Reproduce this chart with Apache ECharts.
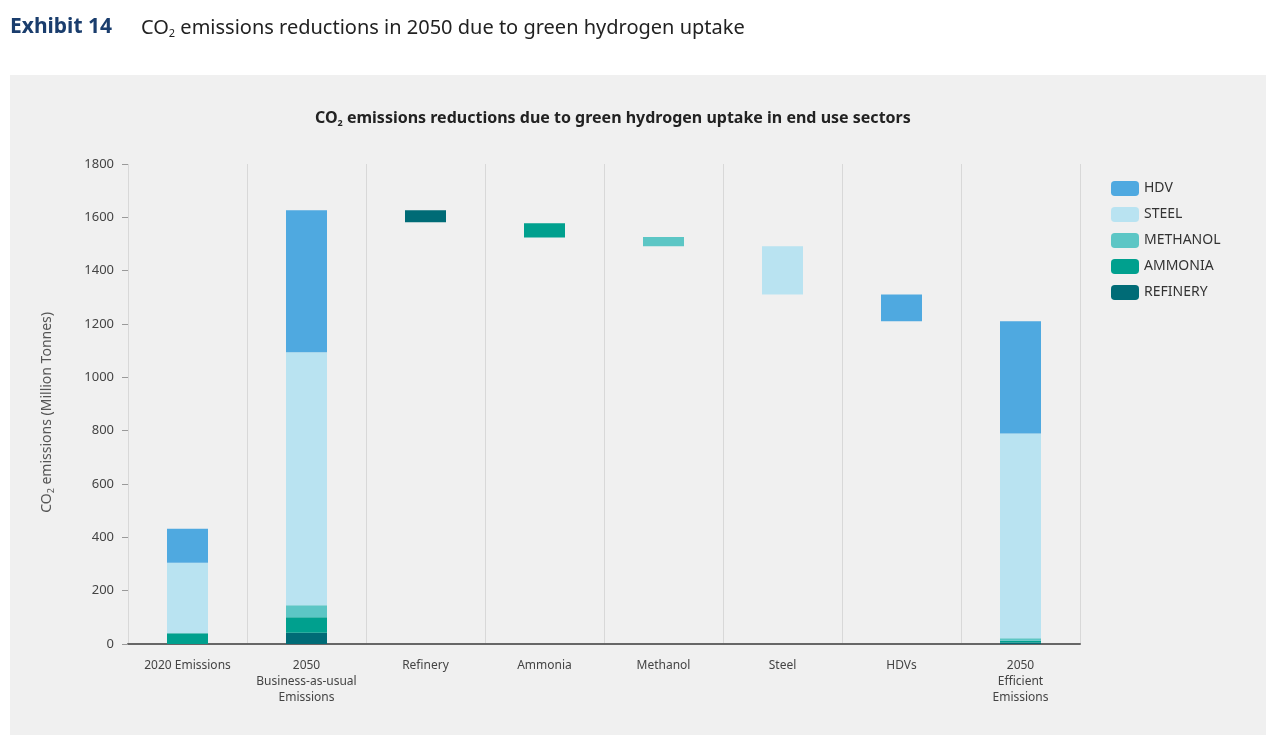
<!DOCTYPE html>
<html><head><meta charset="utf-8">
<script src="https://cdn.jsdelivr.net/npm/echarts@6/dist/echarts.min.js"></script>
<style>html,body{margin:0;padding:0;background:#fff}#c{width:1280px;height:747px}</style>
</head><body><div id="c"></div>
<script>
const categories = ['2020 Emissions','2050\nBusiness-as-usual\nEmissions','Refinery','Ammonia','Methanol','Steel','HDVs','2050\nEfficient\nEmissions'];
const base     = [0, 0, 1582, 1524, 1492, 1311, 1210, 0];
const refinery = [0, 42, 45, 0, 0, 0, 0, 6];
const ammonia  = [40, 58, 0, 54, 0, 0, 0, 6];
const methanol = [0, 45, 0, 0, 34, 0, 0, 10];
const steel    = [265, 949, 0, 0, 0, 181, 0, 767];
const hdv      = [127, 533, 0, 0, 0, 0, 101, 421];
const yTicks = [0,200,400,600,800,1000,1200,1400,1600,1800];

const colors = {HDV:'#4fa9e0', STEEL:'#b9e3f1', METHANOL:'#5cc6c5', AMMONIA:'#00a08e', REFINERY:'#006b76'};
const font = 'Noto Sans';
function s(name, data){ return {name, type:'bar', stack:'t', data:data.map(v=>v||'-'), barWidth:41, itemStyle:{color:colors[name]}, emphasis:{disabled:true}}; }
const chart = echarts.init(document.getElementById('c'));
chart.setOption({
  animation:false,
  textStyle:{fontFamily:font},
  graphic:[
    {type:'rect', shape:{x:10,y:75,width:1256,height:660}, style:{fill:'#f0f0f0'}, z:-10},
    {type:'text', left:10, top:17, style:{text:'Exhibit 14', font:'bold 21px "Noto Sans"', fill:'#1a3d6d'}},
    {type:'text', left:141, top:18, style:{rich:{a:{fontSize:20,fontFamily:font,fill:'#222'},s:{fontSize:11,fontFamily:font,fill:'#222',padding:[12,0,0,0]}}, text:'{a|CO}{s|2}{a| emissions reductions in 2050 due to green hydrogen uptake}'}},
    {type:'text', left:315, top:110, style:{rich:{a:{fontSize:16,fontWeight:'bold',fontFamily:font,fill:'#222'},s:{fontSize:9,fontWeight:'bold',fontFamily:font,fill:'#222',padding:[10,0,0,0]}}, text:'{a|CO}{s|2}{a| emissions reductions due to green hydrogen uptake in end use sectors}'}},
    {type:'text', rotation:Math.PI/2, left:40, top:312, style:{rich:{a:{fontSize:14,fontFamily:font,fill:'#555'},s:{fontSize:9,fontFamily:font,fill:'#555',padding:[8,0,0,0]}}, text:'{a|CO}{s|2}{a| emissions (Million Tonnes)}'}}
  ],
  legend:{orient:'vertical', left:1106, top:176, itemWidth:28, itemHeight:15, itemGap:11,
    data:['HDV','STEEL','METHANOL','AMMONIA','REFINERY'], textStyle:{fontSize:14,color:'#333',fontFamily:font}},
  grid:{left:128, right:200, top:164, bottom:103},
  xAxis:{type:'category', data:categories, axisLine:{lineStyle:{color:'#666',width:2}}, axisTick:{show:false},
    axisLabel:{fontSize:12,color:'#444',lineHeight:16,margin:14,interval:0},
    splitLine:{show:true, lineStyle:{color:'#d8d8d8'}}},
  yAxis:{type:'value', min:0, max:1800, interval:200, axisLine:{show:false}, axisTick:{show:true,length:6,lineStyle:{color:'#999'}},
    splitLine:{show:false}, axisLabel:{fontSize:13,color:'#444',margin:14,formatter:v=>yTicks.includes(v)?String(v):''}},
  series:[
    {name:'base', type:'bar', stack:'t', data:base, barWidth:41, itemStyle:{color:'transparent'}, emphasis:{disabled:true}, tooltip:{show:false}},
    s('REFINERY', refinery), s('AMMONIA', ammonia), s('METHANOL', methanol), s('STEEL', steel), s('HDV', hdv)
  ]
});
</script></body></html>
